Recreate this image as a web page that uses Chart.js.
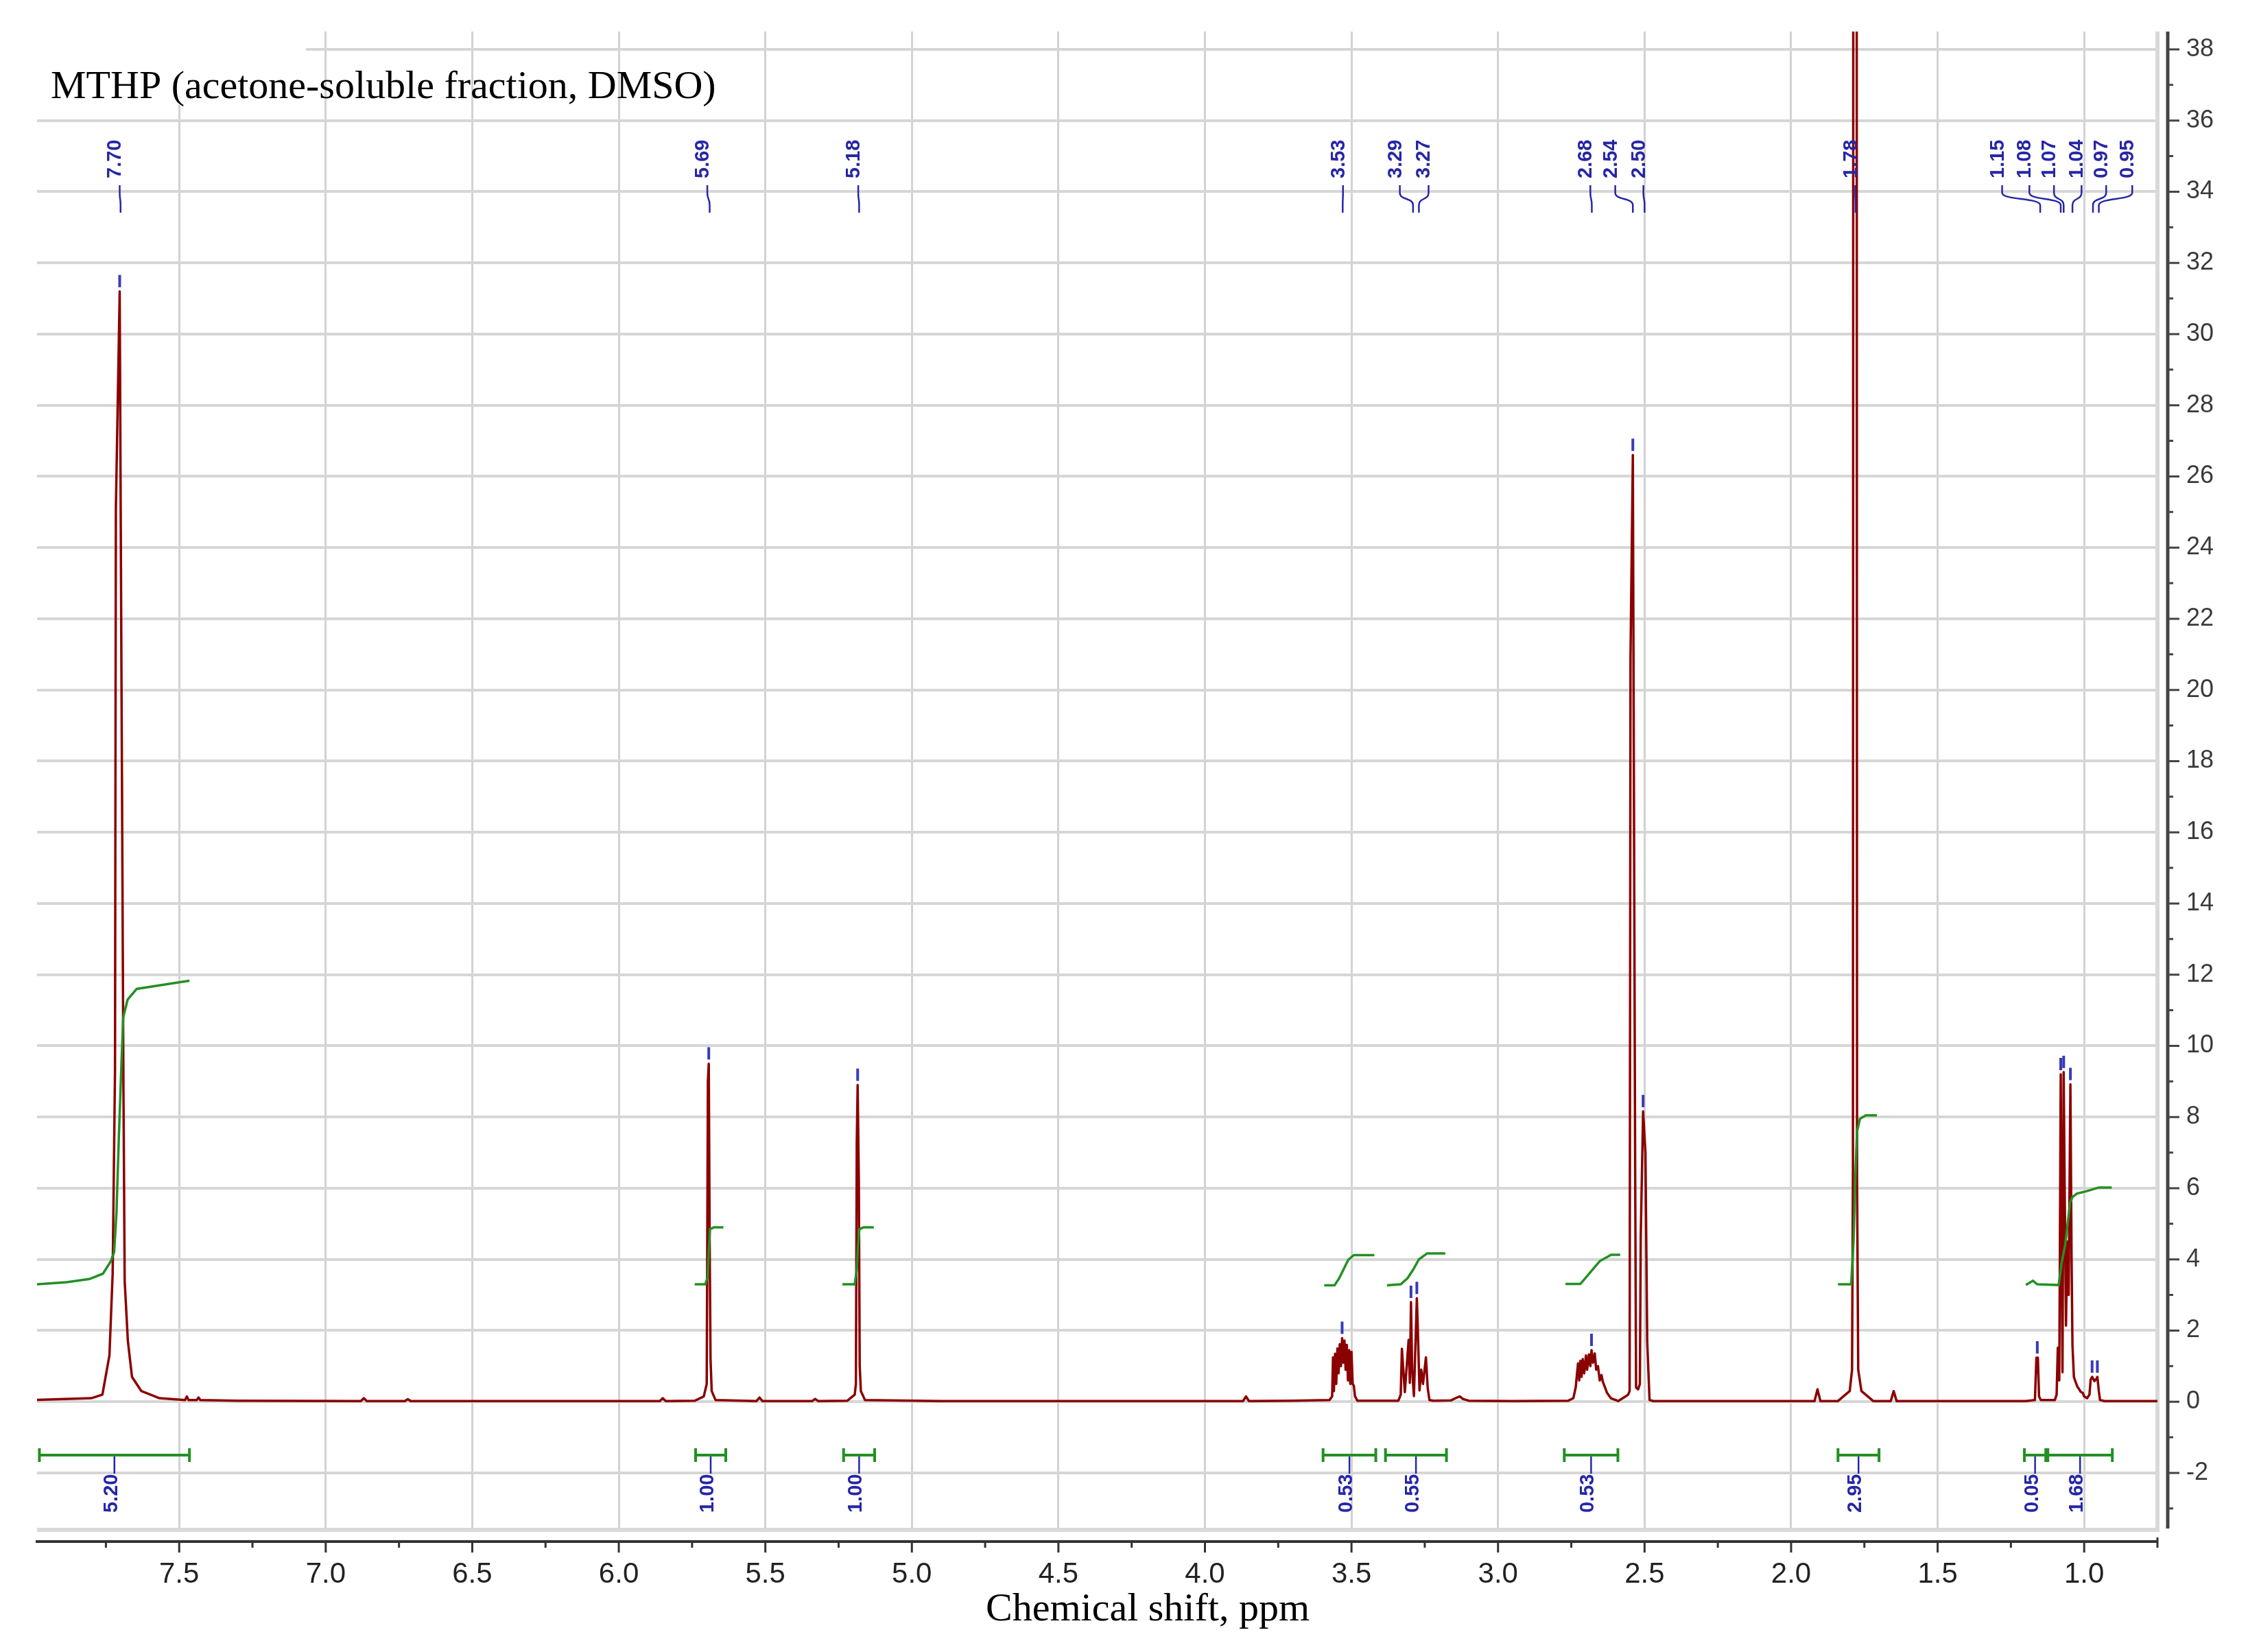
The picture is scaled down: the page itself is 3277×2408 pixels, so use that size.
<!DOCTYPE html>
<html>
<head>
<meta charset="utf-8">
<title>MTHP 1H NMR</title>
<script src="https://cdn.jsdelivr.net/npm/chart.js@4.4.1/dist/chart.umd.min.js"></script>
<style>
  html, body { margin: 0; padding: 0; background: #fff; }
  #nmr { display: block; }
</style>
</head>
<body>
<canvas id="nmr" width="3277" height="2408"></canvas>
<script>
// ---- Spectrum data ----

// axis windows
const shiftMin = 0.75;
const shiftMax = 7.985;
const intMin = -3.6;
const intMax = 38.5;

// baseline with the small impurity bumps
const baselinePpm = [7.99, 7.48, 7.474, 7.468, 7.44, 7.434, 7.428, 7.30, 6.88, 6.87, 6.86, 6.73, 6.72, 6.71, 6.30,
  5.86, 5.85, 5.84, 5.53, 5.52, 5.51, 5.34, 5.33, 5.32, 4.90, 4.40, 3.87, 3.86, 3.85, 3.70, 3.16, 3.14, 3.13, 3.12,
  3.10, 2.95, 1.92, 1.91, 1.90, 1.66, 1.65, 1.64, 1.40, 0.90, 0.75];
const baselineInt = [0.05, 0.05, 0.15, 0.05, 0.05, 0.12, 0.05, 0.03, 0.02, 0.1, 0.02, 0.02, 0.07, 0.02, 0.02,
  0.02, 0.1, 0.02, 0.02, 0.12, 0.02, 0.02, 0.08, 0.02, 0.02, 0.02, 0.02, 0.15, 0.02, 0.03, 0.04, 0.12, 0.15, 0.08,
  0.03, 0.02, 0.02, 0.35, 0.02, 0.02, 0.3, 0.02, 0.02, 0.02, 0.02];

// 7.70 ppm
const m770Ppm = [7.80, 7.762, 7.738, 7.727, 7.719, 7.716, 7.703, 7.697, 7.690, 7.686, 7.675, 7.661, 7.629, 7.567];
const m770Int = [0.1, 0.2, 1.3, 3.6, 9.3, 25.1, 31.2, 20.5, 8.6, 3.4, 1.7, 0.7, 0.3, 0.1];

// 5.69 ppm
const m569Ppm = [5.74, 5.71, 5.700, 5.696, 5.693, 5.690, 5.687, 5.683, 5.67];
const m569Int = [0.03, 0.15, 0.5, 9.0, 9.5, 4.5, 1.2, 0.3, 0.05];

// 5.18 ppm
const m518Ppm = [5.22, 5.195, 5.191, 5.188, 5.185, 5.181, 5.178, 5.174, 5.16];
const m518Int = [0.03, 0.2, 0.5, 7.3, 8.9, 6.2, 1.0, 0.3, 0.05];

// 3.53 ppm multiplet
const m353Ppm = [3.575, 3.566, 3.563, 3.560, 3.556, 3.552, 3.548, 3.544, 3.540, 3.536, 3.532, 3.528, 3.524,
  3.520, 3.516, 3.512, 3.508, 3.504, 3.500, 3.496, 3.492, 3.488, 3.48];
const m353Int = [0.05, 0.15, 1.25, 0.3, 1.35, 0.5, 1.5, 0.8, 1.62, 1.0, 1.79, 1.1, 1.72,
  0.9, 1.6, 0.6, 1.45, 0.5, 1.4, 0.5, 0.45, 0.15, 0.03];

// 3.29 / 3.27 ppm
const m329Ppm = [3.34, 3.332, 3.328, 3.318, 3.305, 3.301, 3.297, 3.293, 3.287, 3.277, 3.274, 3.268, 3.262,
  3.256, 3.246, 3.240, 3.234, 3.22];
const m329Int = [0.03, 0.2, 1.49, 0.27, 1.74, 0.53, 2.8, 0.9, 0.16, 2.91, 2.12, 0.32, 0.9,
  0.5, 1.25, 0.39, 0.05, 0.03];

// 2.68 ppm multiplet
const m268Ppm = [2.76, 2.743, 2.735, 2.727, 2.723, 2.719, 2.715, 2.711, 2.706, 2.700, 2.696, 2.690, 2.685,
  2.681, 2.676, 2.670, 2.665, 2.659, 2.653, 2.647, 2.642, 2.635, 2.628, 2.615, 2.59, 2.565];
const m268Int = [0.03, 0.1, 0.4, 1.08, 0.6, 1.15, 0.7, 1.2, 0.8, 1.3, 0.9, 1.33, 1.0,
  1.45, 1.1, 1.36, 0.9, 1.0, 0.6, 0.75, 0.55, 0.4, 0.25, 0.1, 0.02, 0.15];

// 2.54 / 2.50 ppm
const m254Ppm = [2.556, 2.551, 2.548, 2.540, 2.532, 2.529, 2.522, 2.516, 2.513, 2.505, 2.497, 2.491, 2.483, 2.47];
const m254Int = [0.2, 0.3, 20.9, 26.6, 6.4, 0.4, 0.35, 0.5, 4.66, 8.16, 7.0, 1.7, 0.05, 0.02];

// 1.78 ppm (off scale)
const m178Ppm = [1.84, 1.80, 1.792, 1.789, 1.786, 1.778, 1.775, 1.771, 1.76, 1.72];
const m178Int = [0.02, 0.3, 0.9, 6.5, 100, 100, 6.3, 0.9, 0.3, 0.02];

// 1.15 - 0.95 ppm
const m110Ppm = [1.20, 1.168, 1.163, 1.158, 1.154, 1.148, 1.10, 1.094, 1.090, 1.085, 1.080, 1.077, 1.074,
  1.070, 1.066, 1.062, 1.058, 1.053, 1.047, 1.043, 1.040, 1.035, 1.029, 1.023, 1.017, 1.012, 1.005, 1.000,
  0.990, 0.982, 0.978, 0.973, 0.965, 0.958, 0.955, 0.950, 0.946, 0.93];
const m110Int = [0.02, 0.05, 1.24, 1.24, 0.15, 0.05, 0.05, 0.2, 1.52, 0.6, 9.2, 4.48, 0.83,
  9.26, 5.5, 2.14, 4.5, 3.0, 8.92, 4.0, 1.59, 0.69, 0.55, 0.42, 0.35, 0.28, 0.25, 0.15,
  0.1, 0.2, 0.62, 0.7, 0.58, 0.65, 0.7, 0.3, 0.05, 0.02];

// integral curves (ppm, level)
const int770Ppm = [7.985, 7.884, 7.806, 7.76, 7.734, 7.722, 7.714, 7.706, 7.697, 7.691, 7.676, 7.645, 7.567, 7.465];
const int770Val = [3.3, 3.36, 3.45, 3.6, 3.94, 4.2, 5.3, 7.4, 9.5, 10.8, 11.3, 11.6, 11.7, 11.83];
const int569Ppm = [5.741, 5.705, 5.697, 5.693, 5.689, 5.676, 5.643];
const int569Val = [3.3, 3.3, 3.5, 4.2, 4.85, 4.9, 4.9];
const int518Ppm = [5.237, 5.195, 5.188, 5.184, 5.179, 5.165, 5.130];
const int518Val = [3.3, 3.3, 3.7, 4.4, 4.85, 4.9, 4.9];
const int353Ppm = [3.593, 3.558, 3.542, 3.527, 3.511, 3.492, 3.422];
const int353Val = [3.27, 3.27, 3.47, 3.72, 3.99, 4.12, 4.12];
const int329Ppm = [3.379, 3.332, 3.309, 3.289, 3.270, 3.242, 3.180];
const int329Val = [3.27, 3.3, 3.47, 3.72, 4.0, 4.17, 4.17];
const int268Ppm = [2.770, 2.719, 2.653, 2.614, 2.583];
const int268Val = [3.31, 3.31, 3.95, 4.13, 4.13];
const int178Ppm = [1.840, 1.795, 1.787, 1.780, 1.775, 1.765, 1.745, 1.707];
const int178Val = [3.3, 3.3, 4.5, 6.5, 7.6, 7.95, 8.05, 8.05];
const int110Ppm = [1.199, 1.175, 1.16, 1.087, 1.077, 1.065, 1.057, 1.048, 1.040, 1.025, 0.99, 0.95, 0.906];
const int110Val = [3.28, 3.4, 3.3, 3.28, 3.9, 4.4, 4.96, 5.6, 5.75, 5.85, 5.92, 6.02, 6.02];

// integration ranges and their values
const integralFrom = [7.977, 5.738, 5.233, 3.597, 3.384, 2.774, 1.840, 1.204, 1.124];
const integralTo = [7.465, 5.635, 5.127, 3.417, 3.176, 2.591, 1.700, 1.131, 0.904];
const integralValue = ['5.20', '1.00', '1.00', '0.53', '0.55', '0.53', '2.95', '0.05', '1.68'];

// peak labels on top, and the picked peak maxima
const peakShift = [7.70, 5.69, 5.18, 3.53, 3.29, 3.27, 2.68, 2.54, 2.50, 1.78, 1.15, 1.08, 1.07, 1.04, 0.97, 0.95];
const pickedPpm = [7.703, 5.693, 5.185, 3.532, 3.297, 3.277, 2.681, 2.540, 2.505, 1.160, 1.080, 1.070, 1.047, 0.973, 0.955];

// ---- layout of the annotations ----
// where each top label sits (ppm units on the axis, spread so the texts don't collide)
const labelSlot = [7.703, 5.698, 5.183, 3.529, 3.335, 3.237, 2.685, 2.600, 2.504, 1.781,
  1.280, 1.187, 1.103, 1.009, 0.925, 0.836];
const BLUE = '#2626a6';
const RED = '#8b0000';
const GREEN = '#239023';
const LABEL_FONT = 'bold 29px "Liberation Sans"';

function pairs(xs, ys) {
  return xs.map((v, i) => ({ x: v, y: ys[i] }));
}

const spectrum = [].concat(
  pairs(baselinePpm, baselineInt), pairs(m770Ppm, m770Int), pairs(m569Ppm, m569Int),
  pairs(m518Ppm, m518Int), pairs(m353Ppm, m353Int), pairs(m329Ppm, m329Int),
  pairs(m268Ppm, m268Int), pairs(m254Ppm, m254Int), pairs(m178Ppm, m178Int),
  pairs(m110Ppm, m110Int)
).sort((a, b) => a.x - b.x);

const integralCurves = [
  pairs(int770Ppm, int770Val), pairs(int569Ppm, int569Val), pairs(int518Ppm, int518Val),
  pairs(int353Ppm, int353Val), pairs(int329Ppm, int329Val), pairs(int268Ppm, int268Val),
  pairs(int178Ppm, int178Val), pairs(int110Ppm, int110Val)
];

// tallest point of the trace near a picked shift
function peakHeight(p) {
  let h = 0;
  spectrum.forEach(pt => {
    if (Math.abs(pt.x - p) <= 0.004 && pt.y > h) h = pt.y;
  });
  return h;
}

function isMajor(v, step) {
  return Math.abs(v / step - Math.round(v / step)) < 1e-6;
}

// Decorations: title, peak picking, integrals, axis lines and ticks
const nmrDecor = {
  id: 'nmrDecor',
  beforeDatasetsDraw(chart) {
    const { ctx, chartArea: a } = chart;
    ctx.save();
    ctx.strokeStyle = '#d9d9d9';
    ctx.lineWidth = 6;
    ctx.beginPath();
    ctx.moveTo(a.right, a.top);
    ctx.lineTo(a.right, a.bottom);
    ctx.lineTo(a.left, a.bottom);
    ctx.stroke();
    // white patch behind the title
    ctx.fillStyle = '#fff';
    ctx.fillRect(a.left, a.top, 392, 107);
    ctx.restore();
  },
  afterDatasetsDraw(chart) {
    const { ctx, chartArea: a } = chart;
    const x = chart.scales.x;
    const y = chart.scales.y;
    ctx.save();

    // title
    ctx.fillStyle = '#000';
    ctx.font = '58px "Liberation Serif"';
    ctx.textAlign = 'left';
    ctx.textBaseline = 'alphabetic';
    ctx.fillText('MTHP (acetone-soluble fraction, DMSO)', a.left + 20, 143);

    // peak labels with connectors
    ctx.font = LABEL_FONT;
    ctx.fillStyle = BLUE;
    ctx.strokeStyle = BLUE;
    ctx.lineWidth = 2.5;
    peakShift.forEach((p, i) => {
      const xl = x.getPixelForValue(labelSlot[i]);
      const xp = x.getPixelForValue(p);
      ctx.beginPath();
      ctx.moveTo(xl, 270);
      ctx.lineTo(xl, 281);
      ctx.bezierCurveTo(xl, 292, xp, 288, xp, 299);
      ctx.lineTo(xp, 310);
      ctx.stroke();
      ctx.save();
      ctx.translate(xl - 6, 260);
      ctx.rotate(-Math.PI / 2);
      ctx.textAlign = 'left';
      ctx.textBaseline = 'middle';
      ctx.fillText(p.toFixed(2), 0, 0);
      ctx.restore();
    });

    // peak pick markers
    ctx.fillStyle = '#3a3ab8';
    pickedPpm.forEach(p => {
      const px = x.getPixelForValue(p);
      const py = y.getPixelForValue(peakHeight(p));
      ctx.fillRect(px - 2, py - 24, 4, 18);
    });

    // integral brackets and values
    const yb = y.getPixelForValue(-1.5);
    integralFrom.forEach((f, i) => {
      const x1 = x.getPixelForValue(f);
      const x2 = x.getPixelForValue(integralTo[i]);
      const xm = (x1 + x2) / 2;
      ctx.strokeStyle = GREEN;
      ctx.lineWidth = 4;
      ctx.beginPath();
      ctx.moveTo(x1, yb); ctx.lineTo(x2, yb);
      ctx.moveTo(x1, yb - 10); ctx.lineTo(x1, yb + 10);
      ctx.moveTo(x2, yb - 10); ctx.lineTo(x2, yb + 10);
      ctx.stroke();
      ctx.strokeStyle = BLUE;
      ctx.lineWidth = 2.5;
      ctx.beginPath();
      ctx.moveTo(xm, yb + 2); ctx.lineTo(xm, yb + 27);
      ctx.stroke();
      ctx.save();
      ctx.translate(xm - 4, yb + 84);
      ctx.rotate(-Math.PI / 2);
      ctx.fillStyle = BLUE;
      ctx.textAlign = 'left';
      ctx.textBaseline = 'middle';
      ctx.fillText(integralValue[i], 0, 0);
      ctx.restore();
    });
    ctx.restore();
  },
  afterDraw(chart) {
    const { ctx, chartArea: a } = chart;
    const x = chart.scales.x;
    const y = chart.scales.y;
    ctx.save();
    ctx.strokeStyle = '#333';
    // bottom axis
    const ya = a.bottom + 17;
    ctx.lineWidth = 4;
    ctx.beginPath();
    ctx.moveTo(a.left - 2, ya); ctx.lineTo(a.right, ya);
    ctx.stroke();
    ctx.lineWidth = 3;
    ctx.beginPath();
    x.ticks.forEach(t => {
      const px = x.getPixelForValue(t.value);
      ctx.moveTo(px, ya);
      ctx.lineTo(px, ya + (isMajor(t.value, 0.5) ? 16 : 9));
    });
    ctx.moveTo(a.right, ya);
    ctx.lineTo(a.right, ya - 6);
    ctx.stroke();
    // axis title
    ctx.fillStyle = '#000';
    ctx.font = '58px "Liberation Serif"';
    ctx.textAlign = 'center';
    ctx.textBaseline = 'middle';
    ctx.fillText('Chemical shift, ppm', 1673, 2347);
    // right axis
    const xa = a.right + 15;
    ctx.strokeStyle = '#444';
    ctx.lineWidth = 5;
    ctx.beginPath();
    ctx.moveTo(xa, a.top); ctx.lineTo(xa, a.bottom - 2);
    ctx.stroke();
    ctx.lineWidth = 3;
    ctx.beginPath();
    y.ticks.forEach(t => {
      const py = y.getPixelForValue(t.value);
      ctx.moveTo(xa, py);
      ctx.lineTo(xa + (isMajor(t.value, 2) ? 17 : 8), py);
    });
    ctx.stroke();
    ctx.restore();
  }
};

document.addEventListener('DOMContentLoaded', function() {
  const ctx = document.getElementById('nmr');

  const datasets = [{
    label: 'spectrum',
    data: spectrum,
    showLine: true,
    borderColor: RED,
    borderWidth: 3.5,
    borderJoinStyle: 'round',
    pointRadius: 0,
    tension: 0,
    order: 2
  }];
  integralCurves.forEach((c, i) => {
    datasets.push({
      label: 'integral ' + integralValue[i],
      data: c,
      showLine: true,
      borderColor: GREEN,
      borderWidth: 3.5,
      pointRadius: 0,
      tension: 0,
      order: 1
    });
  });

  new Chart(ctx, {
    type: 'scatter',
    data: { datasets: datasets },
    options: {
      responsive: false,
      animation: false,
      layout: { padding: { left: 54, top: 46, right: 0, bottom: 0 } },
      plugins: {
        legend: { display: false },
        tooltip: { enabled: false }
      },
      scales: {
        x: {
          type: 'linear',
          reverse: true,
          min: shiftMin,
          max: shiftMax,
          position: 'bottom',
          afterFit: s => {
            s.height = 178;
            s.paddingLeft = 0;
            s.paddingRight = 0;
          },
          border: { display: false },
          grid: {
            color: c => (c.tick && isMajor(c.tick.value, 0.5)) ? '#d2d2d2' : 'rgba(0,0,0,0)',
            lineWidth: 3,
            drawTicks: false
          },
          ticks: {
            stepSize: 0.25,
            includeBounds: false,
            autoSkip: false,
            maxRotation: 0,
            padding: 40,
            color: '#222',
            font: { family: 'Liberation Sans', size: 42 },
            callback: v => isMajor(v, 0.5) ? v.toFixed(1) : ''
          }
        },
        y: {
          type: 'linear',
          position: 'right',
          min: intMin,
          max: intMax,
          afterFit: s => {
            s.width = 132;
            s.paddingTop = 0;
            s.paddingBottom = 0;
          },
          border: { display: false },
          grid: {
            color: c => (c.tick && isMajor(c.tick.value, 2)) ? '#d6d6d6' : 'rgba(0,0,0,0)',
            lineWidth: 4,
            drawTicks: false
          },
          ticks: {
            stepSize: 1,
            includeBounds: false,
            autoSkip: false,
            padding: 42,
            color: '#3a3a3a',
            font: { family: 'Liberation Sans', size: 36 },
            callback: v => isMajor(v, 2) ? String(v) : ''
          }
        }
      }
    },
    plugins: [nmrDecor]
  });
});
</script>
</body>
</html>
